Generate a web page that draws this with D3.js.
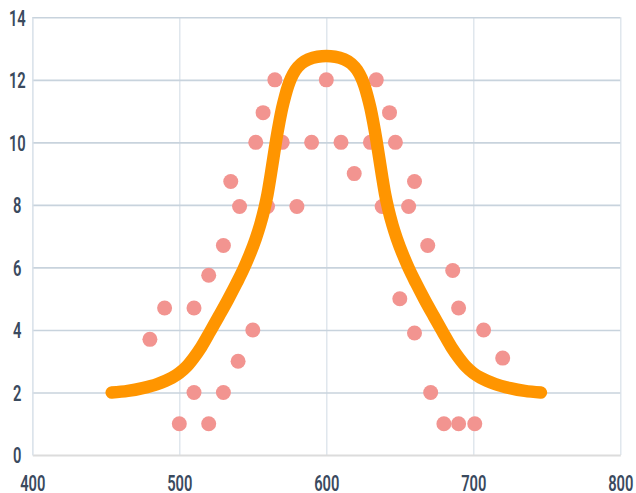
<!DOCTYPE html>
<html><head><meta charset="utf-8">
<script src="https://cdn.jsdelivr.net/npm/d3@7"></script>
<style>body{margin:0;background:#fff}svg{display:block}</style>
</head><body>
<svg id="c" width="636" height="493"></svg>
<script>
// ---- data ----
const xTicks = [400, 500, 600, 700, 800];
const yTicks = [0, 2, 4, 6, 8, 10, 12, 14];
const scatterX = [480, 490, 510, 500, 510, 520, 520, 530, 530, 540, 535, 541, 550, 552, 557, 565, 560, 570, 580, 590, 600, 610, 619, 630, 634, 643, 638, 647, 660, 656, 650, 669, 660, 686, 690, 707, 720, 671, 680, 690, 701];
const scatterY = [3.7, 4.7, 4.7, 1.0, 2.0, 1.0, 5.75, 2.0, 6.7, 3.0, 8.75, 7.95, 4.0, 10, 10.95, 12, 7.95, 10, 7.95, 10, 12, 10, 9, 10, 12, 10.95, 7.95, 10, 8.75, 7.95, 5.0, 6.7, 3.9, 5.9, 4.7, 4.0, 3.1, 2.0, 1.0, 1.0, 1.0];
const curveX = [454, 465, 475, 485, 495, 500, 505, 510, 515, 521, 527, 533, 539, 544, 548, 552, 555, 558, 560, 562, 564, 566, 568, 570, 572, 574, 576, 579, 583, 588, 594, 600,
                606, 612, 617, 621, 624, 626, 628, 630, 632, 634, 636, 638, 640, 642, 645, 648, 652, 656, 661, 667, 673, 679, 685, 690, 695, 700, 705, 715, 725, 735, 746];
const curveY = [2.00, 2.05, 2.14, 2.27, 2.47, 2.62, 2.83, 3.12, 3.46, 3.95, 4.45, 4.96, 5.50, 5.98, 6.42, 6.92, 7.36, 7.90, 8.34, 8.90, 9.50, 10.10, 10.63, 11.10, 11.48, 11.80, 12.05, 12.31, 12.52, 12.66, 12.74, 12.76,
                12.74, 12.66, 12.52, 12.31, 12.05, 11.80, 11.48, 11.10, 10.63, 10.10, 9.50, 8.90, 8.34, 7.90, 7.36, 6.92, 6.42, 5.98, 5.50, 4.96, 4.45, 3.95, 3.46, 3.12, 2.83, 2.62, 2.47, 2.27, 2.14, 2.05, 2.00];

// ---- layout ----
const svg = d3.select("#c");
const x = d3.scaleLinear().domain([400, 800]).range([32.3, 620.3]);
const y = d3.scaleLinear().domain([0, 14]).range([455, 17.3]);
const labelColor = "#3a4a5e";
const font = "Roboto, 'Liberation Sans', sans-serif";

// vertical grid
const vg = svg.append("g").attr("transform", `translate(0,${y(0)})`)
  .call(d3.axisBottom(x).tickValues(xTicks).tickSize(-(y(0) - y(14))).tickFormat(""));
vg.select(".domain").remove();
vg.selectAll(".tick line").attr("stroke", "#dbe3ea").attr("stroke-width", 1.3);

// horizontal grid
const hg = svg.append("g").attr("transform", `translate(${x(400)},0)`)
  .call(d3.axisLeft(y).tickValues(yTicks.filter(d => d > 0)).tickSize(-(x(800) - x(400))).tickFormat(""));
hg.select(".domain").remove();
hg.selectAll(".tick line").attr("stroke", "#c8d3dd").attr("stroke-width", 1.6);

// bottom axis line + labels
const xa = svg.append("g").attr("transform", `translate(0,${y(0)})`)
  .call(d3.axisBottom(x).tickValues(xTicks).tickSize(0));
xa.select(".domain").attr("stroke", "#dcdcdc").attr("stroke-width", 2);
xa.selectAll(".tick text")
  .attr("y", 0).attr("dy", 0)
  .attr("transform", "translate(0,35.5) scale(0.67,1)")
  .attr("fill", labelColor).attr("font-family", font)
  .attr("font-size", 22).attr("font-weight", 600).attr("text-anchor", "middle");

// left labels
const ya = svg.append("g").attr("transform", `translate(${x(400)},0)`)
  .call(d3.axisLeft(y).tickValues(yTicks).tickSize(0));
ya.select(".domain").attr("stroke", "#dbe3ea").attr("stroke-width", 1.3);
ya.selectAll(".tick text")
  .attr("x", 0).attr("dy", "0.36em")
  .attr("transform", "translate(-15,0) scale(0.67,1)")
  .attr("fill", labelColor).attr("font-family", font)
  .attr("font-size", 22).attr("font-weight", 600).attr("text-anchor", "middle");

// scatter
svg.append("g").selectAll("circle")
  .data(d3.zip(scatterX, scatterY))
  .join("circle")
  .attr("cx", d => x(d[0])).attr("cy", d => y(d[1]))
  .attr("r", 7.5).attr("fill", "#f29490");

// curve
const line = d3.line().x(d => x(d[0])).y(d => y(d[1])).curve(d3.curveMonotoneX);
svg.append("path")
  .datum(d3.zip(curveX, curveY))
  .attr("d", line)
  .attr("fill", "none").attr("stroke", "#ff9500")
  .attr("stroke-width", 12.5).attr("stroke-linecap", "round").attr("stroke-linejoin", "round");
</script>
</body></html>
